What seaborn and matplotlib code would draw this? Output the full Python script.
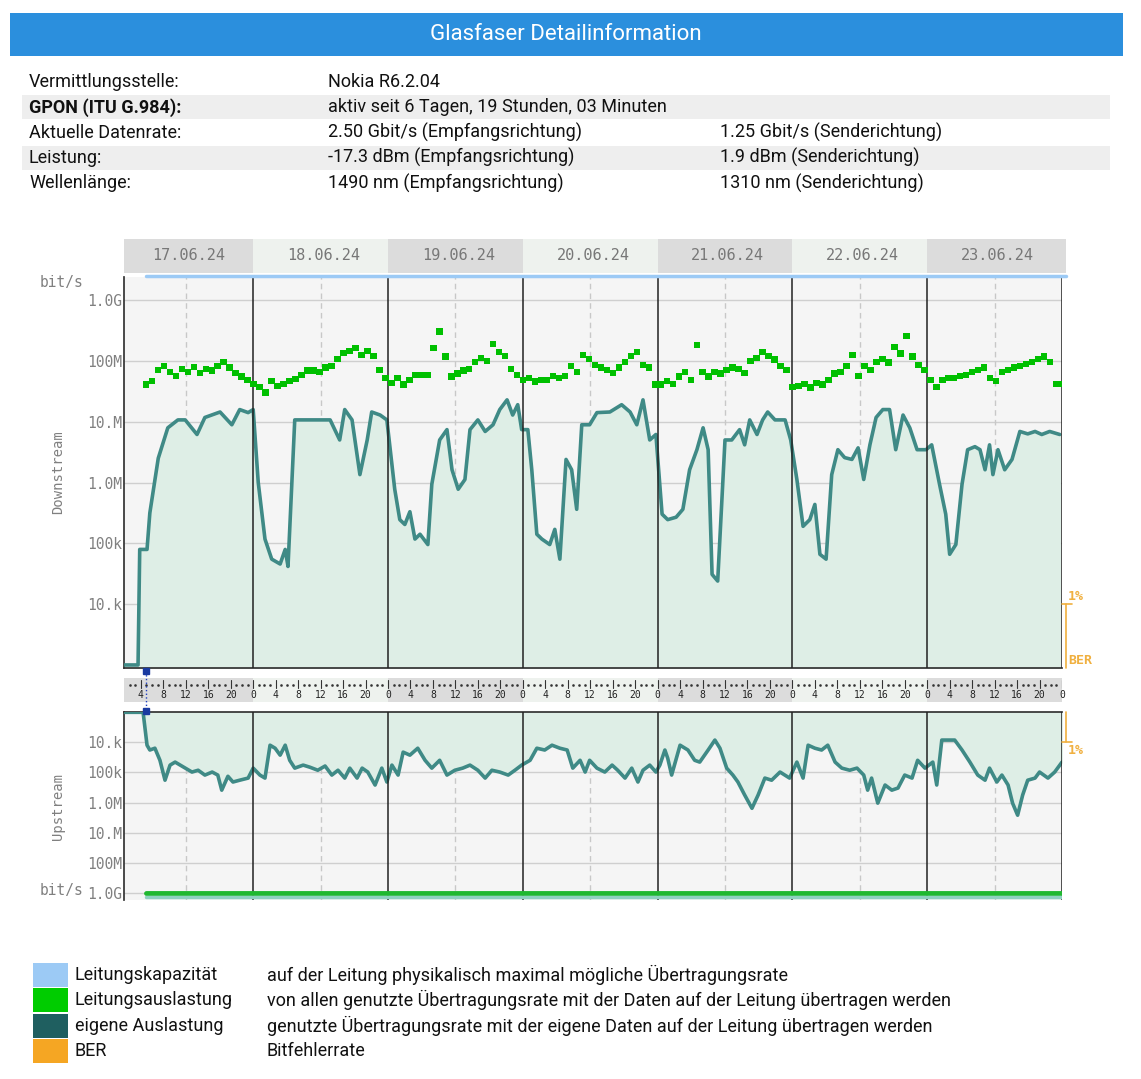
import numpy as np
import matplotlib.pyplot as plt
import matplotlib.patches as mpatches
import seaborn as sns

sns.set_theme(style="white")
plt.rcParams["font.family"] = ["Roboto", "DejaVu Sans"]

W, H = 1141, 1079

# --- info table ---
info_rows = [
    ("Vermittlungsstelle:", "Nokia R6.2.04", ""),
    ("GPON (ITU G.984):", "aktiv seit 6 Tagen, 19 Stunden, 03 Minuten", ""),
    ("Aktuelle Datenrate:", "2.50 Gbit/s (Empfangsrichtung)", "1.25 Gbit/s (Senderichtung)"),
    ("Leistung:", "-17.3 dBm (Empfangsrichtung)", "1.9 dBm (Senderichtung)"),
    ("Wellenlänge:", "1490 nm (Empfangsrichtung)", "1310 nm (Senderichtung)"),
]
dates = ["17.06.24", "18.06.24", "19.06.24", "20.06.24", "21.06.24", "22.06.24", "23.06.24"]

# --- downstream own usage (hour since 17.06 00:00, log10 bit/s) ---
down_hours = [1.0, 3.5, 3.8, 5.1, 5.6, 7.1, 8.8, 10.6, 11.9, 14.0, 15.4, 18.1, 20.2, 21.6, 23.1, 24.0,
              24.9, 26.1, 27.3, 28.8, 29.7, 30.2, 31.4, 34.1, 37.7, 39.4, 40.3, 41.6, 43.0, 44.3, 45.1, 46.6, 47.8,
              49.2, 50.1, 51.0, 51.9, 52.8, 53.7, 55.1, 55.8, 57.2, 58.5, 59.4, 60.5, 61.7, 62.6, 64.0, 65.3, 66.7,
              67.9, 69.2, 70.2, 71.1, 71.8,
              72.9, 73.6, 74.5, 75.4, 76.8, 77.7, 78.6, 79.7, 80.7, 81.6, 82.5, 83.9, 85.2, 87.5, 89.6, 91.1, 92.3,
              93.4, 94.6, 95.7,
              96.8, 97.8, 99.3, 100.5, 101.7, 103.0, 104.1, 105.0, 105.7, 106.7, 108.0, 109.2, 110.6, 111.5, 112.4,
              113.7, 114.7, 115.6, 116.9, 118.7, 119.7,
              120.8, 121.9, 123.1, 124.0, 124.9, 126.0, 127.0, 128.1, 129.3, 130.6, 131.7, 132.7, 133.8, 134.9,
              136.1, 137.3, 138.4, 139.7, 140.9, 142.2, 143.8,
              144.8, 146.2, 147.3, 148.0, 149.1, 150.2, 151.2, 152.5, 153.4, 154.3, 155.1, 155.7, 156.6, 157.8,
              159.1, 160.5, 161.9, 163.2, 164.4, 165.8, 167.6]
down_own = [3.0, 3.0, 4.9, 4.9, 5.5, 6.4, 6.9, 7.03, 7.03, 6.79, 7.07, 7.16, 6.95, 7.2, 7.15, 7.2,
            6.0, 5.07, 4.74, 4.66, 4.9, 4.62, 7.03, 7.03, 7.03, 6.7, 7.2, 7.03, 6.13, 6.7, 7.16, 7.11, 7.03,
            5.89, 5.39, 5.31, 5.52, 5.07, 5.15, 4.98, 5.97, 6.7, 6.87, 6.21, 5.89, 6.05, 6.87, 7.03, 6.84, 6.95,
            7.2, 7.36, 7.11, 7.28, 6.87,
            6.87, 6.21, 5.15, 5.07, 4.98, 5.23, 4.74, 6.38, 6.21, 5.56, 6.95, 6.95, 7.15, 7.16, 7.28, 7.16, 6.95,
            7.36, 6.7, 6.79,
            5.48, 5.39, 5.43, 5.56, 6.21, 6.54, 6.9, 6.54, 4.49, 4.38, 6.7, 6.7, 6.87, 6.62, 7.03, 6.79, 7.03,
            7.16, 7.03, 7.03, 6.7,
            6.05, 5.28, 5.39, 5.64, 4.82, 4.74, 6.13, 6.54, 6.41, 6.38, 6.57, 6.05, 6.62, 7.07, 7.2, 7.2, 6.54,
            7.11, 6.9, 6.54, 6.54,
            6.62, 5.97, 5.48, 4.82, 4.98, 5.97, 6.54, 6.59, 6.54, 6.21, 6.62, 6.13, 6.54, 6.21, 6.38, 6.84, 6.8,
            6.84, 6.79, 6.84, 6.79]

# --- downstream line load (green squares), log10 bit/s ---
load_start, load_end = 4.9, 168.0
down_load = [
    7.61, 7.67, 7.85, 7.92, 7.82, 7.75, 7.87, 7.82, 7.90, 7.80, 7.87, 7.84, 7.92, 7.98, 7.89, 7.80, 7.74, 7.69,
    7.62, 7.57, 7.48, 7.67, 7.59, 7.62, 7.67, 7.70, 7.77, 7.84, 7.84, 7.82, 7.89, 7.92, 8.03, 8.13, 8.16, 8.21,
    8.10, 8.16, 8.08, 7.85, 7.72,
    7.64, 7.72, 7.61, 7.69, 7.77, 7.77, 7.77, 8.21, 8.48, 8.07, 7.74, 7.79, 7.84, 7.87, 7.98, 8.05, 8.00, 8.28,
    8.15, 8.08, 7.87, 7.77,
    7.69, 7.72, 7.66, 7.69, 7.69, 7.75, 7.72, 7.75, 7.92, 7.82, 8.10, 8.03, 7.93, 7.89, 7.85, 7.80, 7.89, 7.98,
    8.08, 8.15, 7.93, 7.89,
    7.61, 7.61, 7.67, 7.62, 7.74, 7.82, 7.69, 8.26, 7.82, 7.74, 7.82, 7.79, 7.85, 7.89, 7.87, 7.80, 8.00, 8.05,
    8.15, 8.08, 8.02, 7.92, 7.85,
    7.57, 7.59, 7.62, 7.56, 7.64, 7.61, 7.69, 7.79, 7.82, 7.92, 8.10, 7.75, 7.92, 7.85, 7.98, 8.03, 7.97, 8.23,
    8.12, 8.41, 8.07, 7.93, 7.85,
    7.69, 7.57, 7.69, 7.72, 7.72, 7.75, 7.77, 7.82, 7.85, 7.89, 7.72, 7.67, 7.82, 7.85, 7.89, 7.92, 7.95, 7.98,
    8.03, 8.07, 7.98, 7.62, 7.62]

# --- upstream own usage, log10 bit/s ---
up_hours = [1.0, 4.4, 5.1, 5.6, 6.5, 7.4, 8.3, 9.2, 10.1, 11.0, 11.9, 13.1, 14.2, 15.4, 16.7, 17.7, 18.4,
            19.5, 20.4, 21.6, 23.1, 24.0, 25.2, 26.1, 27.0, 27.9, 28.8, 29.7, 30.5, 31.4, 32.9, 34.1, 35.5,
            36.8, 38.0, 39.1, 40.3, 41.2, 42.5, 43.4, 44.4, 45.7, 46.9, 47.8, 48.7, 49.8, 50.7, 51.9, 53.3,
            54.6, 55.8, 57.2, 58.5, 59.9, 61.3, 62.6, 64.0, 65.3, 66.5, 67.9, 69.4, 70.6, 71.8, 73.3, 74.5,
            75.9, 77.2, 78.6, 79.9, 80.9, 82.2, 83.1, 83.9, 85.2, 86.6, 87.9, 88.9, 90.2, 91.4, 92.5, 93.4,
            94.6, 95.7, 96.4, 97.3, 97.8, 98.5, 100.0, 101.4, 102.6, 103.5, 105.0, 106.2, 107.1, 108.3, 109.4,
            110.3, 111.5, 112.8, 113.9, 115.1, 116.3, 117.8, 119.5, 120.8, 121.9, 122.8, 124.0, 125.2, 126.3,
            127.6, 128.8, 130.2, 131.5, 132.7, 133.4, 134.1, 135.2, 136.5, 137.7, 138.8, 140.0, 141.3, 142.3,
            143.6, 145.0, 145.7, 146.6, 147.7, 148.9, 150.2, 151.6, 153.0, 154.3, 155.1, 156.4, 157.3, 158.4,
            159.2, 160.1, 161.0, 161.9, 163.2, 164.0, 165.5, 166.7, 168.0]
up_own = [3.01, 3.01, 4.10, 4.26, 4.20, 4.60, 5.26, 4.76, 4.66, 4.76, 4.86, 4.99, 4.93, 5.09, 4.99, 5.09, 5.59,
          5.13, 5.32, 5.26, 5.19, 4.86, 5.09, 5.19, 4.10, 4.20, 4.43, 4.10, 4.60, 4.86, 4.76, 4.83, 4.93,
          4.79, 5.09, 4.93, 5.19, 4.86, 5.19, 4.86, 4.99, 5.42, 4.86, 5.32, 4.76, 5.09, 4.33, 4.43, 4.20,
          4.60, 4.86, 4.60, 5.09, 4.93, 4.86, 4.76, 4.93, 5.19, 4.93, 4.99, 5.09, 4.93, 4.76, 4.60, 4.20,
          4.26, 4.10, 4.20, 4.26, 4.86, 4.60, 4.99, 4.60, 4.86, 4.99, 4.76, 4.93, 5.19, 4.86, 5.32, 4.93,
          4.76, 4.99, 4.76, 4.26, 4.53, 5.09, 4.10, 4.26, 4.60, 4.66, 4.26, 3.93, 4.20, 4.86, 5.09,
          5.32, 5.75, 6.19, 5.75, 5.19, 5.26, 4.99, 5.19, 4.66, 5.19, 4.10, 4.20, 4.26, 4.10,
          4.66, 4.86, 4.93, 4.86, 5.09, 5.59, 5.19, 6.02, 5.42, 5.59, 5.52, 5.09, 5.19, 4.60,
          4.86, 4.66, 5.42, 3.93, 3.93, 3.93, 4.26, 4.66, 5.09, 5.26, 4.86, 5.32, 5.09, 5.42,
          6.02, 6.42, 5.75, 5.26, 5.19, 4.99, 5.19, 4.99, 4.66]

down_ticks = [9, 8, 7, 6, 5, 4]
down_labels = ["1.0G", "100M", "10.M", "1.0M", "100k", "10.k"]
up_ticks = [4, 5, 6, 7, 8, 9]
up_labels = ["10.k", "100k", "1.0M", "10.M", "100M", "1.0G"]

legend_items = [
    ("#9ccaf5", "Leitungskapazität", "auf der Leitung physikalisch maximal mögliche Übertragungsrate"),
    ("#00cc00", "Leitungsauslastung", "von allen genutzte Übertragungsrate mit der Daten auf der Leitung übertragen werden"),
    ("#1f5f60", "eigene Auslastung", "genutzte Übertragungsrate mit der eigene Daten auf der Leitung übertragen werden"),
    ("#f5a623", "BER", "Bitfehlerrate"),
]

MONO = "DejaVu Sans Mono"
GRAY = "#808080"
LINE = "#3f8a86"
FILL = "#deeee6"
ORANGE = "#f0b040"
FS = 13


def fx(x):
    return x / W


def fy(y):
    return 1 - y / H


def box(x0, y0, x1, y1):
    return [fx(x0), fy(y1), (x1 - x0) / W, (y1 - y0) / H]


fig = plt.figure(figsize=(W / 100, H / 100), dpi=100)
fig.patch.set_facecolor("white")

# title bar
fig.patches.append(mpatches.Rectangle((fx(10), fy(56)), 1113 / W, 43 / H, transform=fig.transFigure,
                                      facecolor="#2b8fdd", edgecolor="none"))
fig.text(fx(566), fy(35), "Glasfaser Detailinformation", color="white", fontsize=16, ha="center", va="center")

# info table
for i, (lab, v1, v2) in enumerate(info_rows):
    y = 82 + i * 25.3
    if i in (1, 3):
        fig.patches.append(mpatches.Rectangle((fx(22), fy(y + 12)), 1088 / W, 24 / H, transform=fig.transFigure,
                                              facecolor="#eeeeee", edgecolor="none"))
    fig.text(fx(29), fy(y), lab, fontsize=FS, va="center", color="#111",
             fontweight="bold" if i == 1 else "normal")
    fig.text(fx(328), fy(y), v1, fontsize=FS, va="center", color="#111")
    fig.text(fx(720), fy(y), v2, fontsize=FS, va="center", color="#111")

# date header
ax_h = fig.add_axes(box(124, 239, 1066, 273))
ax_h.set_xlim(1, 168.7)
ax_h.set_ylim(0, 1)
for d, lab in enumerate(dates):
    x0 = 1 if d == 0 else d * 24
    ax_h.axvspan(x0, (d + 1) * 24 if d < 6 else 168.7, color="#dcdcdc" if d % 2 == 0 else "#eef2ee", lw=0)
    ax_h.text(d * 24 + 12.5, 0.5, lab, family=MONO, fontsize=11, color="#777", ha="center", va="center")
ax_h.axis("off")


def style_plot(ax, ticks, labels):
    ax.set_facecolor("#f5f5f5")
    ax.set_xlim(1, 168)
    ax.set_yticks(ticks)
    ax.set_yticklabels(labels, family=MONO, fontsize=10.5, color=GRAY)
    ax.tick_params(axis="y", length=0, pad=1)
    ax.set_xticks([])
    ax.set_xlabel("")
    for t in ticks:
        ax.axhline(t, color="#cfcfcf", lw=1, zorder=1)
    for d in range(7):
        ax.axvline(d * 24 + 12, color="#c8c8c8", lw=1, ls=(0, (4, 3)), zorder=1)
        ax.axvline((d + 1) * 24, color="#222", lw=1.1, zorder=4)
    for s in ax.spines.values():
        s.set_color("#333")
    ax.spines["right"].set_visible(False)


# downstream
ax_d = fig.add_axes(box(124, 277, 1062, 668))
ax_d.set_ylim(2.95, 9.38)
ax_d.fill_between(down_hours, down_own, 2.95, color=FILL, zorder=2)
sns.lineplot(x=down_hours, y=down_own, ax=ax_d, color=LINE, lw=2.6, zorder=3)
load_hours = np.linspace(load_start, load_end, len(down_load))
sns.scatterplot(x=load_hours, y=down_load, ax=ax_d, color="#00c000", marker="s", s=22, edgecolor="none", zorder=5)
style_plot(ax_d, down_ticks, down_labels)
ax_d.spines["top"].set_visible(False)
ax_d.set_ylabel("Downstream", family=MONO, fontsize=10, color=GRAY, labelpad=16)

# capacity line on top
fig.add_artist(plt.Line2D([fx(146), fx(1066)], [fy(276), fy(276)], color="#9ccaf5", lw=2.5))

# hour strip
ax_s = fig.add_axes(box(124, 678, 1062, 702))
ax_s.set_xlim(1, 168)
ax_s.set_ylim(0, 1)
for d in range(7):
    ax_s.axvspan(1 if d == 0 else d * 24, (d + 1) * 24, color="#dcdcdc" if d % 2 == 0 else "#eef2ee", lw=0)
for h in range(2, 169):
    if h % 4 == 0:
        ax_s.plot([h, h], [0.6, 0.92], color="#333", lw=0.8)
        ax_s.text(h, 0.3, str(h % 24), family=MONO, fontsize=7, color="#222", ha="center", va="center")
    else:
        ax_s.plot([h], [0.72], marker="s", ms=0.8, color="#333")
ax_s.axis("off")

# selection marker
fig.add_artist(plt.Line2D([fx(146), fx(146)], [fy(671), fy(711)], color="#2040c0", lw=1, ls=":"))
for yy in (671, 711):
    fig.add_artist(plt.Line2D([fx(146)], [fy(yy)], marker="s", ms=4, color="#1a3aa0"))

# upstream
ax_u = fig.add_axes(box(124, 712, 1062, 900))
ax_u.set_ylim(9.23, 3.0)
ax_u.fill_between(up_hours, up_own, 3.0, color=FILL, zorder=2)
sns.lineplot(x=up_hours, y=up_own, ax=ax_u, color=LINE, lw=2.6, zorder=3)
style_plot(ax_u, up_ticks, up_labels)
ax_u.spines["bottom"].set_visible(False)
ax_u.axhline(9.0, xmin=(4.9 - 1) / 167, color="#20b830", lw=3.5, zorder=5)
ax_u.axhline(9.13, xmin=(4.9 - 1) / 167, color="#8fd0c0", lw=2.5, zorder=5)
ax_u.set_ylabel("Upstream", family=MONO, fontsize=10, color=GRAY, labelpad=16)

fig.text(fx(40), fy(282), "bit/s", family=MONO, fontsize=10.5, color=GRAY, va="center")
fig.text(fx(40), fy(891), "bit/s", family=MONO, fontsize=10.5, color=GRAY, va="center")

# BER markers
for seg in [((1066, 1066), (604, 668)), ((1062, 1072), (604, 604)),
            ((1066, 1066), (712, 742)), ((1062, 1072), (742, 742))]:
    fig.add_artist(plt.Line2D([fx(seg[0][0]), fx(seg[0][1])], [fy(seg[1][0]), fy(seg[1][1])], color=ORANGE, lw=1.2))
fig.text(fx(1068), fy(596), "1%", family=MONO, fontsize=9.5, color=ORANGE, va="center", fontweight="bold")
fig.text(fx(1068), fy(661), "BER", family=MONO, fontsize=9.5, color=ORANGE, va="center", fontweight="bold")
fig.text(fx(1068), fy(750), "1%", family=MONO, fontsize=9.5, color=ORANGE, va="center", fontweight="bold")

# legend
for i, (c, name, desc) in enumerate(legend_items):
    y = 975 + i * 25.4
    fig.patches.append(mpatches.Rectangle((fx(33), fy(y + 12)), 35 / W, 24 / H, transform=fig.transFigure,
                                          facecolor=c, edgecolor="none"))
    fig.text(fx(75), fy(y), name, fontsize=FS, va="center", color="#111")
    fig.text(fx(267), fy(y), desc, fontsize=FS, va="center", color="#111")

fig.savefig("out.png", dpi=100)
